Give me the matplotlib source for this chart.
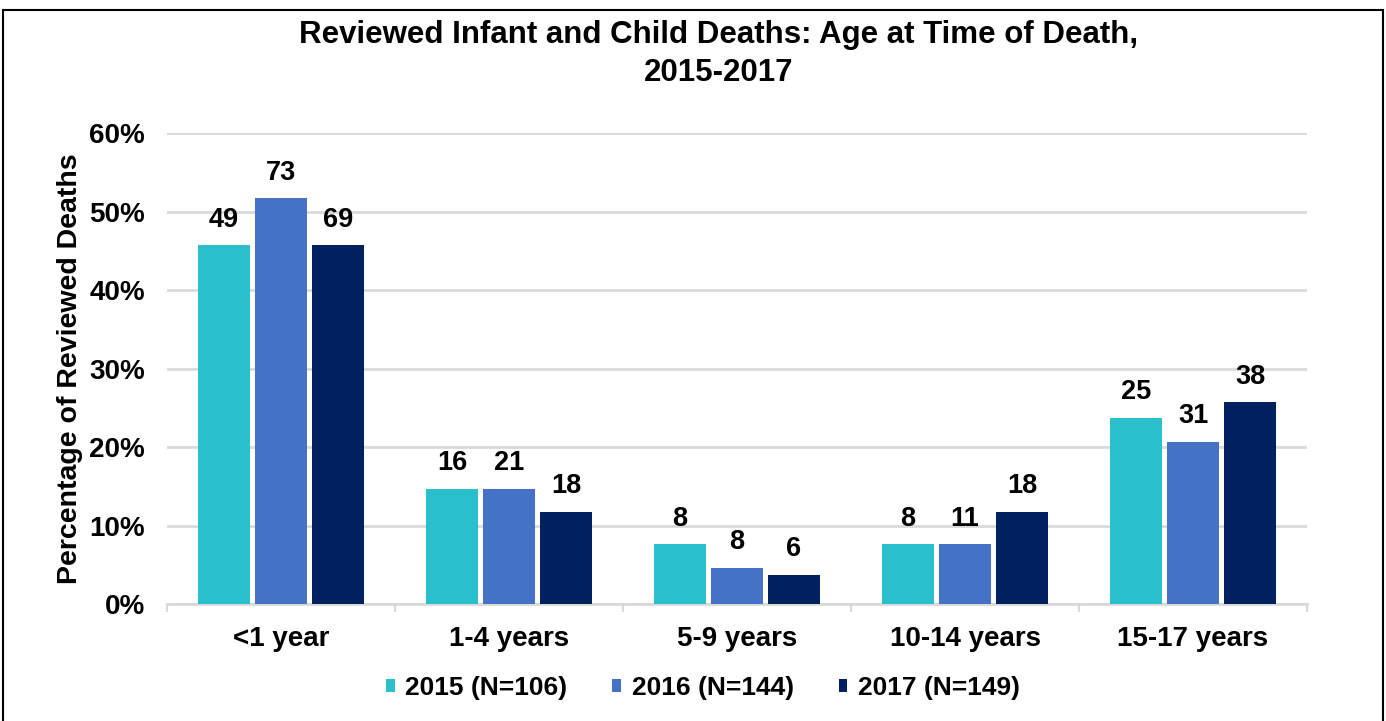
import matplotlib
matplotlib.use('Agg')
import matplotlib.pyplot as plt
from matplotlib.patches import Rectangle
from matplotlib.ticker import PercentFormatter
import numpy as np

plt.rcParams['font.family'] = ['Liberation Sans', 'DejaVu Sans']
plt.rcParams['font.weight'] = 'bold'

categories = ['<1 year', '1-4 years', '5-9 years', '10-14 years', '15-17 years']
series = ['2015 (N=106)', '2016 (N=144)', '2017 (N=149)']
# bar heights (percent of reviewed deaths) and counts shown as labels
pct_2015 = [45.7, 14.7, 7.6, 7.6, 23.7]
pct_2016 = [51.7, 14.7, 4.6, 7.6, 20.7]
pct_2017 = [45.7, 11.7, 3.7, 11.7, 25.7]
n_2015 = [49, 16, 8, 8, 25]
n_2016 = [73, 21, 8, 11, 31]
n_2017 = [69, 18, 6, 18, 38]
colors = ['#29BFCC', '#4472C4', '#002060']

W, H = 1386, 721
fig = plt.figure(figsize=(W / 100, H / 100), dpi=100)
ax = fig.add_axes([167 / W, (H - 604) / H, (1307 - 167) / W, (604 - 133.3) / H])

x = np.arange(len(categories))
width = 0.228
step = 0.25
for i, (pct, cnt, lab) in enumerate(zip([pct_2015, pct_2016, pct_2017],
                                         [n_2015, n_2016, n_2017], series)):
    bars = ax.bar(x + (i - 1) * step, pct, width, color=colors[i], label=lab, zorder=3)
    for b, c in zip(bars, cnt):
        ax.annotate(str(c), (b.get_x() + b.get_width() / 2, b.get_height()),
                    xytext=(0, 13.5), textcoords='offset points',
                    ha='center', va='baseline', fontsize=19.5, fontweight='bold')

ax.set_xlim(-0.5, len(categories) - 0.5)
ax.set_ylim(0, 60)
ax.set_yticks(range(0, 61, 10))
ax.yaxis.set_major_formatter(PercentFormatter(decimals=0))
ax.grid(axis='y', color='#D9D9D9', linewidth=2, zorder=0)

ax.set_xticks(x)
ax.set_xticklabels(categories)
ax.set_xticks(np.arange(-0.5, len(categories)), minor=True)
ax.tick_params(axis='x', which='major', length=0, pad=16, labelsize=20)
ax.tick_params(axis='x', which='minor', length=6, width=1.5, color='#D9D9D9')
ax.tick_params(axis='y', length=0, pad=16, labelsize=20)

for s in ['top', 'right', 'left']:
    ax.spines[s].set_visible(False)
ax.spines['bottom'].set_color('#D9D9D9')
ax.spines['bottom'].set_linewidth(2)

ax.set_ylabel('Percentage of Reviewed Deaths', fontsize=20.5, fontweight='bold', labelpad=4)

fig.text(719 / W, (H - 54) / H, 'Reviewed Infant and Child Deaths: Age at Time of Death,\n2015-2017',
         ha='center', va='center', fontsize=22.5, fontweight='bold', linespacing=1.38)

fig.legend(loc='center', bbox_to_anchor=(703 / W, (H - 688) / H), ncol=3, frameon=False,
           fontsize=19, handlelength=0.33, handleheight=0.33, handletextpad=0.4,
           columnspacing=1.7)

fig.patches.append(Rectangle((3 / W, -0.05), (1383 - 3) / W, 1.05 - 10 / H,
                             transform=fig.transFigure, fill=False,
                             edgecolor='black', linewidth=1.5))

fig.savefig('out.png', dpi=100)
